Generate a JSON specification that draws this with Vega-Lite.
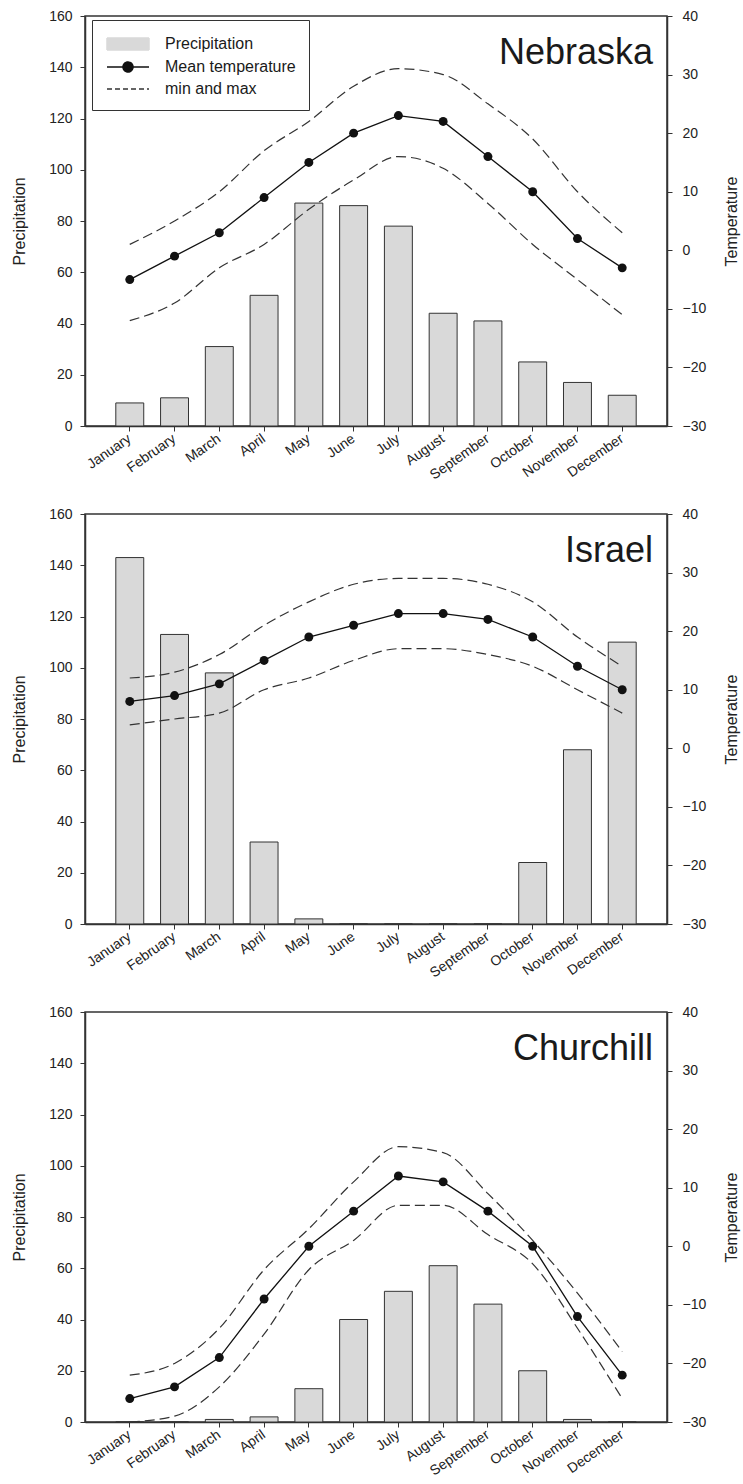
{
  "$schema": "https://vega.github.io/schema/vega-lite/v6.json",
  "padding": {"left": 10, "top": 8, "right": 0, "bottom": 0},
  "background": "white",
  "datasets": {
    "climate": [
      {"station": "Nebraska", "month": "January", "precip": 9, "mean": -5, "min": -12, "max": 1},
      {"station": "Nebraska", "month": "February", "precip": 11, "mean": -1, "min": -9, "max": 5},
      {"station": "Nebraska", "month": "March", "precip": 31, "mean": 3, "min": -3, "max": 10},
      {"station": "Nebraska", "month": "April", "precip": 51, "mean": 9, "min": 1, "max": 17},
      {"station": "Nebraska", "month": "May", "precip": 87, "mean": 15, "min": 7, "max": 22},
      {"station": "Nebraska", "month": "June", "precip": 86, "mean": 20, "min": 12, "max": 28},
      {"station": "Nebraska", "month": "July", "precip": 78, "mean": 23, "min": 16, "max": 31},
      {"station": "Nebraska", "month": "August", "precip": 44, "mean": 22, "min": 14, "max": 30},
      {"station": "Nebraska", "month": "September", "precip": 41, "mean": 16, "min": 8, "max": 25},
      {"station": "Nebraska", "month": "October", "precip": 25, "mean": 10, "min": 1, "max": 19},
      {"station": "Nebraska", "month": "November", "precip": 17, "mean": 2, "min": -5, "max": 10},
      {"station": "Nebraska", "month": "December", "precip": 12, "mean": -3, "min": -11, "max": 3},
      {"station": "Israel", "month": "January", "precip": 143, "mean": 8, "min": 4, "max": 12},
      {"station": "Israel", "month": "February", "precip": 113, "mean": 9, "min": 5, "max": 13},
      {"station": "Israel", "month": "March", "precip": 98, "mean": 11, "min": 6, "max": 16},
      {"station": "Israel", "month": "April", "precip": 32, "mean": 15, "min": 10, "max": 21},
      {"station": "Israel", "month": "May", "precip": 2, "mean": 19, "min": 12, "max": 25},
      {"station": "Israel", "month": "June", "precip": 0, "mean": 21, "min": 15, "max": 28},
      {"station": "Israel", "month": "July", "precip": 0, "mean": 23, "min": 17, "max": 29},
      {"station": "Israel", "month": "August", "precip": 0, "mean": 23, "min": 17, "max": 29},
      {"station": "Israel", "month": "September", "precip": 0, "mean": 22, "min": 16, "max": 28},
      {"station": "Israel", "month": "October", "precip": 24, "mean": 19, "min": 14, "max": 25},
      {"station": "Israel", "month": "November", "precip": 68, "mean": 14, "min": 10, "max": 19},
      {"station": "Israel", "month": "December", "precip": 110, "mean": 10, "min": 6, "max": 14},
      {"station": "Churchill", "month": "January", "precip": 0, "mean": -26, "min": -30, "max": -22},
      {"station": "Churchill", "month": "February", "precip": 0, "mean": -24, "min": -29, "max": -20},
      {"station": "Churchill", "month": "March", "precip": 1, "mean": -19, "min": -24, "max": -14},
      {"station": "Churchill", "month": "April", "precip": 2, "mean": -9, "min": -15, "max": -4},
      {"station": "Churchill", "month": "May", "precip": 13, "mean": 0, "min": -4, "max": 3},
      {"station": "Churchill", "month": "June", "precip": 40, "mean": 6, "min": 1, "max": 11},
      {"station": "Churchill", "month": "July", "precip": 51, "mean": 12, "min": 7, "max": 17},
      {"station": "Churchill", "month": "August", "precip": 61, "mean": 11, "min": 7, "max": 16},
      {"station": "Churchill", "month": "September", "precip": 46, "mean": 6, "min": 2, "max": 9},
      {"station": "Churchill", "month": "October", "precip": 20, "mean": 0, "min": -3, "max": 1},
      {"station": "Churchill", "month": "November", "precip": 1, "mean": -12, "min": -14, "max": -8},
      {"station": "Churchill", "month": "December", "precip": 0, "mean": -22, "min": -26, "max": -18}
    ]
  },
  "spacing": 23,
  "resolve": {"scale": {"color": "independent"}, "legend": {"color": "independent"}},
  "vconcat": [
    {
      "width": 582, "height": 410,
      "data": {"name": "climate"},
      "transform": [{"filter": "datum.station === 'Nebraska'"}],
      "title": {"text": "Nebraska", "orient": "top", "anchor": "end", "frame": "group", "offset": 0, "dy": 91, "dx": -14, "fontSize": 36, "fontWeight": "normal", "font": "Liberation Sans", "color": "#1a1a1a", "baseline": "alphabetic"},
      "encoding": {
        "x": {"field": "month", "type": "ordinal", "sort": ["January","February","March","April","May","June","July","August","September","October","November","December"], "scale": {"paddingInner": 0.376, "paddingOuter": 0.688}, "axis": {"title": null, "labelAngle": -35, "labelAlign": "right", "labelBaseline": "middle", "labelPadding": 6, "labelFontSize": 14}}
      },
      "layer": [
        {
          "mark": {"type": "bar", "stroke": "#333", "strokeWidth": 1},
          "encoding": {
            "y": {"field": "precip", "type": "quantitative", "scale": {"domain": [0, 160], "nice": false}, "axis": {"orient": "left", "title": "Precipitation", "values": [0,20,40,60,80,100,120,140,160], "labelPadding": 8, "titlePadding": 21}},
            "color": {"datum": "Precipitation", "type": "nominal", "scale": {"domain": ["Precipitation","Mean temperature","min and max"], "range": ["#d9d9d9","#111111","#333333"]},
              "legend": {"orient": "none", "legendX": 7, "legendY": 4, "title": null, "direction": "vertical", "strokeColor": "#333", "fillColor": "white", "padding": 13, "symbolOffset": 12, "labelOffset": 26, "rowPadding": 3, "labelFontSize": 16, "labelFont": "Liberation Sans", "labelColor": "#1a1a1a", "symbolSize": 400, "symbolType": "M-2.1,0H2.1", "symbolStrokeColor": "#222222", "symbolStrokeWidth": 1.5,
                "encode": {"symbols": {"update": {
                  "shape": {"signal": "datum.value === 'Precipitation' ? 'M-2.1,-0.6H2.1V0.6H-2.1Z' : datum.value === 'Mean temperature' ? 'M-2.1,0H-0.5M0.5,0H2.1M0.5,0A0.5,0.5,0,1,1,-0.5,0A0.5,0.5,0,1,1,0.5,0Z' : 'M-2.1,0H2.1'"},
                  "fill": {"signal": "datum.value === 'Precipitation' ? '#d4d4d4' : datum.value === 'Mean temperature' ? '#111111' : 'transparent'"},
                  "stroke": {"signal": "'#222222'"},
                  "strokeOpacity": {"value": 1},
                  "strokeWidth": {"value": 1.5},
                  "strokeDash": {"signal": "datum.value === 'min and max' ? [5,3] : [1,0]"},
                  "size": {"value": 400},
                  "opacity": {"value": 1}
                }}}
              }
            }
          }
        },
        {
          "layer": [
            {"mark": {"type": "line", "strokeDash": [10,5], "strokeWidth": 1.2, "interpolate": "monotone"},
             "encoding": {"y": {"field": "max", "type": "quantitative", "scale": {"domain": [-30, 40], "nice": false}, "axis": {"orient": "right", "title": "Temperature", "titleAngle": 270, "values": [-30,-20,-10,0,10,20,30,40], "labelPadding": 10, "titlePadding": 34}},
               "color": {"datum": "min and max", "type": "nominal",
              "legend": {"orient": "none", "legendX": 7, "legendY": 4, "title": null, "direction": "vertical", "strokeColor": "#333", "fillColor": "white", "padding": 13, "symbolOffset": 12, "labelOffset": 26, "rowPadding": 3, "labelFontSize": 16, "labelFont": "Liberation Sans", "labelColor": "#1a1a1a", "symbolSize": 400, "symbolType": "M-2.1,0H2.1", "symbolStrokeColor": "#222222", "symbolStrokeWidth": 1.5,
                "encode": {"symbols": {"update": {
                  "shape": {"signal": "datum.value === 'Precipitation' ? 'M-2.1,-0.6H2.1V0.6H-2.1Z' : datum.value === 'Mean temperature' ? 'M-2.1,0H-0.5M0.5,0H2.1M0.5,0A0.5,0.5,0,1,1,-0.5,0A0.5,0.5,0,1,1,0.5,0Z' : 'M-2.1,0H2.1'"},
                  "fill": {"signal": "datum.value === 'Precipitation' ? '#d4d4d4' : datum.value === 'Mean temperature' ? '#111111' : 'transparent'"},
                  "stroke": {"signal": "'#222222'"},
                  "strokeOpacity": {"value": 1},
                  "strokeWidth": {"value": 1.5},
                  "strokeDash": {"signal": "datum.value === 'min and max' ? [5,3] : [1,0]"},
                  "size": {"value": 400},
                  "opacity": {"value": 1}
                }}}
              }}}},
            {"mark": {"type": "line", "strokeDash": [10,5], "strokeWidth": 1.2, "interpolate": "monotone"},
             "encoding": {"y": {"field": "min", "type": "quantitative"}, "color": {"datum": "min and max", "type": "nominal",
              "legend": {"orient": "none", "legendX": 7, "legendY": 4, "title": null, "direction": "vertical", "strokeColor": "#333", "fillColor": "white", "padding": 13, "symbolOffset": 12, "labelOffset": 26, "rowPadding": 3, "labelFontSize": 16, "labelFont": "Liberation Sans", "labelColor": "#1a1a1a", "symbolSize": 400, "symbolType": "M-2.1,0H2.1", "symbolStrokeColor": "#222222", "symbolStrokeWidth": 1.5,
                "encode": {"symbols": {"update": {
                  "shape": {"signal": "datum.value === 'Precipitation' ? 'M-2.1,-0.6H2.1V0.6H-2.1Z' : datum.value === 'Mean temperature' ? 'M-2.1,0H-0.5M0.5,0H2.1M0.5,0A0.5,0.5,0,1,1,-0.5,0A0.5,0.5,0,1,1,0.5,0Z' : 'M-2.1,0H2.1'"},
                  "fill": {"signal": "datum.value === 'Precipitation' ? '#d4d4d4' : datum.value === 'Mean temperature' ? '#111111' : 'transparent'"},
                  "stroke": {"signal": "'#222222'"},
                  "strokeOpacity": {"value": 1},
                  "strokeWidth": {"value": 1.5},
                  "strokeDash": {"signal": "datum.value === 'min and max' ? [5,3] : [1,0]"},
                  "size": {"value": 400},
                  "opacity": {"value": 1}
                }}}
              }}}},
            {"mark": {"type": "line", "strokeWidth": 1.3},
             "encoding": {"y": {"field": "mean", "type": "quantitative"}, "color": {"datum": "Mean temperature", "type": "nominal",
              "legend": {"orient": "none", "legendX": 7, "legendY": 4, "title": null, "direction": "vertical", "strokeColor": "#333", "fillColor": "white", "padding": 13, "symbolOffset": 12, "labelOffset": 26, "rowPadding": 3, "labelFontSize": 16, "labelFont": "Liberation Sans", "labelColor": "#1a1a1a", "symbolSize": 400, "symbolType": "M-2.1,0H2.1", "symbolStrokeColor": "#222222", "symbolStrokeWidth": 1.5,
                "encode": {"symbols": {"update": {
                  "shape": {"signal": "datum.value === 'Precipitation' ? 'M-2.1,-0.6H2.1V0.6H-2.1Z' : datum.value === 'Mean temperature' ? 'M-2.1,0H-0.5M0.5,0H2.1M0.5,0A0.5,0.5,0,1,1,-0.5,0A0.5,0.5,0,1,1,0.5,0Z' : 'M-2.1,0H2.1'"},
                  "fill": {"signal": "datum.value === 'Precipitation' ? '#d4d4d4' : datum.value === 'Mean temperature' ? '#111111' : 'transparent'"},
                  "stroke": {"signal": "'#222222'"},
                  "strokeOpacity": {"value": 1},
                  "strokeWidth": {"value": 1.5},
                  "strokeDash": {"signal": "datum.value === 'min and max' ? [5,3] : [1,0]"},
                  "size": {"value": 400},
                  "opacity": {"value": 1}
                }}}
              }}}},
            {"mark": {"type": "point", "filled": true, "size": 80, "opacity": 1},
             "encoding": {"y": {"field": "mean", "type": "quantitative"}, "color": {"datum": "Mean temperature", "type": "nominal",
              "legend": {"orient": "none", "legendX": 7, "legendY": 4, "title": null, "direction": "vertical", "strokeColor": "#333", "fillColor": "white", "padding": 13, "symbolOffset": 12, "labelOffset": 26, "rowPadding": 3, "labelFontSize": 16, "labelFont": "Liberation Sans", "labelColor": "#1a1a1a", "symbolSize": 400, "symbolType": "M-2.1,0H2.1", "symbolStrokeColor": "#222222", "symbolStrokeWidth": 1.5,
                "encode": {"symbols": {"update": {
                  "shape": {"signal": "datum.value === 'Precipitation' ? 'M-2.1,-0.6H2.1V0.6H-2.1Z' : datum.value === 'Mean temperature' ? 'M-2.1,0H-0.5M0.5,0H2.1M0.5,0A0.5,0.5,0,1,1,-0.5,0A0.5,0.5,0,1,1,0.5,0Z' : 'M-2.1,0H2.1'"},
                  "fill": {"signal": "datum.value === 'Precipitation' ? '#d4d4d4' : datum.value === 'Mean temperature' ? '#111111' : 'transparent'"},
                  "stroke": {"signal": "'#222222'"},
                  "strokeOpacity": {"value": 1},
                  "strokeWidth": {"value": 1.5},
                  "strokeDash": {"signal": "datum.value === 'min and max' ? [5,3] : [1,0]"},
                  "size": {"value": 400},
                  "opacity": {"value": 1}
                }}}
              }}}}
          ]
        }
      ],
      "resolve": {"scale": {"y": "independent"}}
    },
    {
      "width": 582, "height": 410,
      "data": {"name": "climate"},
      "transform": [{"filter": "datum.station === 'Israel'"}],
      "title": {"text": "Israel", "orient": "top", "anchor": "end", "frame": "group", "offset": 0, "dy": 91, "dx": -14, "fontSize": 36, "fontWeight": "normal", "font": "Liberation Sans", "color": "#1a1a1a", "baseline": "alphabetic"},
      "encoding": {
        "x": {"field": "month", "type": "ordinal", "sort": ["January","February","March","April","May","June","July","August","September","October","November","December"], "scale": {"paddingInner": 0.376, "paddingOuter": 0.688}, "axis": {"title": null, "labelAngle": -35, "labelAlign": "right", "labelBaseline": "middle", "labelPadding": 6, "labelFontSize": 14}}
      },
      "layer": [
        {
          "mark": {"type": "bar", "stroke": "#333", "strokeWidth": 1},
          "encoding": {
            "y": {"field": "precip", "type": "quantitative", "scale": {"domain": [0, 160], "nice": false}, "axis": {"orient": "left", "title": "Precipitation", "values": [0,20,40,60,80,100,120,140,160], "labelPadding": 8, "titlePadding": 21}},
            "color": {"datum": "Precipitation", "type": "nominal", "scale": {"domain": ["Precipitation","Mean temperature","min and max"], "range": ["#d9d9d9","#111111","#333333"]}, "legend": null}
          }
        },
        {
          "layer": [
            {"mark": {"type": "line", "strokeDash": [10,5], "strokeWidth": 1.2, "interpolate": "monotone"},
             "encoding": {"y": {"field": "max", "type": "quantitative", "scale": {"domain": [-30, 40], "nice": false}, "axis": {"orient": "right", "title": "Temperature", "titleAngle": 270, "values": [-30,-20,-10,0,10,20,30,40], "labelPadding": 10, "titlePadding": 34}},
               "color": {"datum": "min and max", "type": "nominal", "legend": null}}},
            {"mark": {"type": "line", "strokeDash": [10,5], "strokeWidth": 1.2, "interpolate": "monotone"},
             "encoding": {"y": {"field": "min", "type": "quantitative"}, "color": {"datum": "min and max", "type": "nominal", "legend": null}}},
            {"mark": {"type": "line", "strokeWidth": 1.3},
             "encoding": {"y": {"field": "mean", "type": "quantitative"}, "color": {"datum": "Mean temperature", "type": "nominal", "legend": null}}},
            {"mark": {"type": "point", "filled": true, "size": 80, "opacity": 1},
             "encoding": {"y": {"field": "mean", "type": "quantitative"}, "color": {"datum": "Mean temperature", "type": "nominal", "legend": null}}}
          ]
        }
      ],
      "resolve": {"scale": {"y": "independent"}}
    },
    {
      "width": 582, "height": 410,
      "data": {"name": "climate"},
      "transform": [{"filter": "datum.station === 'Churchill'"}],
      "title": {"text": "Churchill", "orient": "top", "anchor": "end", "frame": "group", "offset": 0, "dy": 91, "dx": -14, "fontSize": 36, "fontWeight": "normal", "font": "Liberation Sans", "color": "#1a1a1a", "baseline": "alphabetic"},
      "encoding": {
        "x": {"field": "month", "type": "ordinal", "sort": ["January","February","March","April","May","June","July","August","September","October","November","December"], "scale": {"paddingInner": 0.376, "paddingOuter": 0.688}, "axis": {"title": null, "labelAngle": -35, "labelAlign": "right", "labelBaseline": "middle", "labelPadding": 6, "labelFontSize": 14}}
      },
      "layer": [
        {
          "mark": {"type": "bar", "stroke": "#333", "strokeWidth": 1},
          "encoding": {
            "y": {"field": "precip", "type": "quantitative", "scale": {"domain": [0, 160], "nice": false}, "axis": {"orient": "left", "title": "Precipitation", "values": [0,20,40,60,80,100,120,140,160], "labelPadding": 8, "titlePadding": 21}},
            "color": {"datum": "Precipitation", "type": "nominal", "scale": {"domain": ["Precipitation","Mean temperature","min and max"], "range": ["#d9d9d9","#111111","#333333"]}, "legend": null}
          }
        },
        {
          "layer": [
            {"mark": {"type": "line", "strokeDash": [10,5], "strokeWidth": 1.2, "interpolate": "monotone"},
             "encoding": {"y": {"field": "max", "type": "quantitative", "scale": {"domain": [-30, 40], "nice": false}, "axis": {"orient": "right", "title": "Temperature", "titleAngle": 270, "values": [-30,-20,-10,0,10,20,30,40], "labelPadding": 10, "titlePadding": 34}},
               "color": {"datum": "min and max", "type": "nominal", "legend": null}}},
            {"mark": {"type": "line", "strokeDash": [10,5], "strokeWidth": 1.2, "interpolate": "monotone"},
             "encoding": {"y": {"field": "min", "type": "quantitative"}, "color": {"datum": "min and max", "type": "nominal", "legend": null}}},
            {"mark": {"type": "line", "strokeWidth": 1.3},
             "encoding": {"y": {"field": "mean", "type": "quantitative"}, "color": {"datum": "Mean temperature", "type": "nominal", "legend": null}}},
            {"mark": {"type": "point", "filled": true, "size": 80, "opacity": 1},
             "encoding": {"y": {"field": "mean", "type": "quantitative"}, "color": {"datum": "Mean temperature", "type": "nominal", "legend": null}}}
          ]
        }
      ],
      "resolve": {"scale": {"y": "independent"}}
    }
  ],
  "config": {
    "font": "Liberation Sans",
    "view": {"stroke": "#333", "strokeWidth": 1.5},
    "axis": {"grid": false, "domainColor": "#333", "domainWidth": 1.5, "tickColor": "#333", "tickSize": 5, "labelColor": "#222", "titleColor": "#222", "labelFont": "Liberation Sans", "titleFont": "Liberation Sans", "titleFontWeight": "normal", "labelFontSize": 14, "titleFontSize": 16}
  }
}
